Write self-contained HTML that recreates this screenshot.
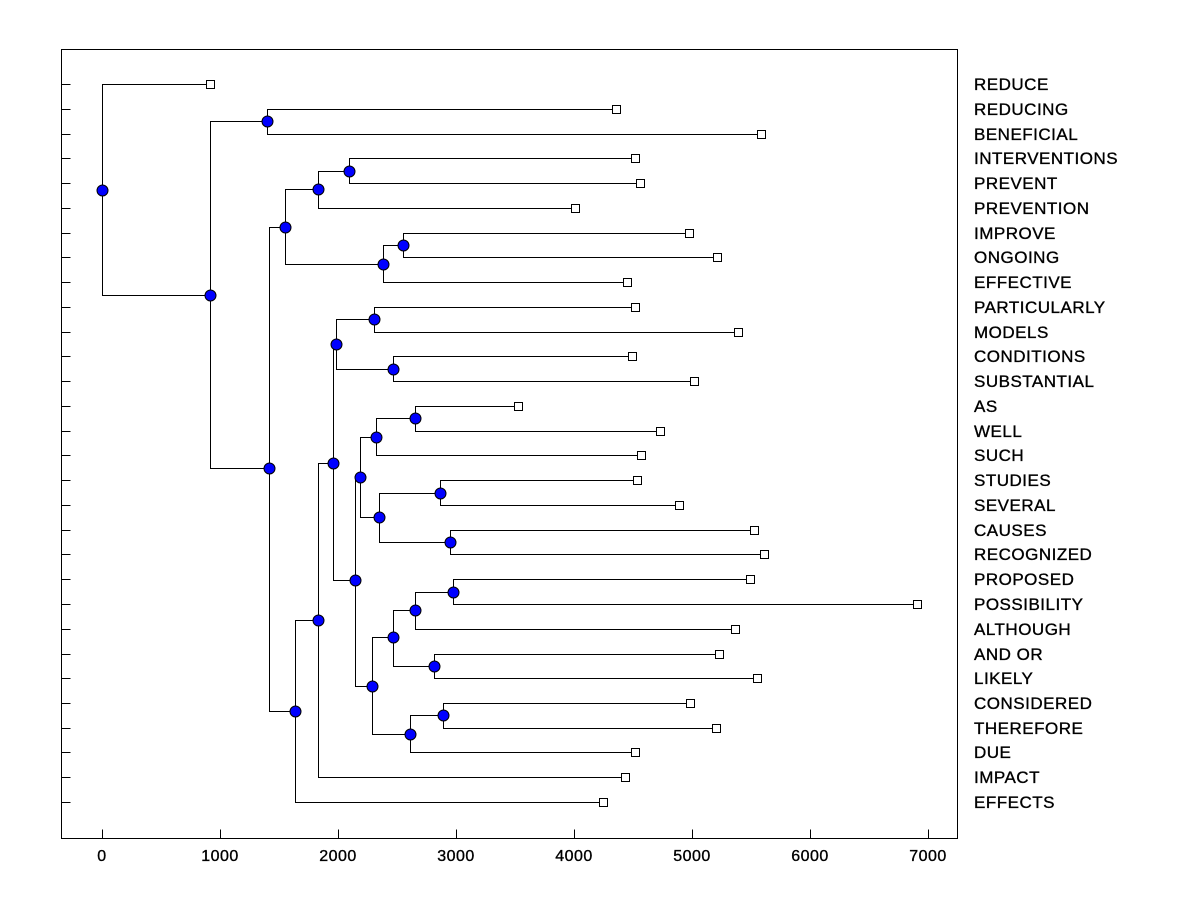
<!DOCTYPE html>
<html><head><meta charset="utf-8"><style>body{margin:0;background:#fff}</style></head><body>
<svg width="1200" height="900" xmlns="http://www.w3.org/2000/svg" font-family="Liberation Sans, Arial, sans-serif">
<rect width="1200" height="900" fill="#fff"/>
<rect x="61.5" y="49.5" width="896" height="789" fill="none" stroke="#000" shape-rendering="crispEdges"/>
<g stroke="#000" fill="none" stroke-width="1" shape-rendering="crispEdges" transform="translate(0.5,0.5)">
<path d="M61 84H70M61 109H70M61 134H70M61 158H70M61 183H70M61 208H70M61 233H70M61 257H70M61 282H70M61 307H70M61 332H70M61 356H70M61 381H70M61 406H70M61 431H70M61 455H70M61 480H70M61 505H70M61 530H70M61 554H70M61 579H70M61 604H70M61 629H70M61 654H70M61 678H70M61 703H70M61 728H70M61 752H70M61 777H70M61 802H70"/>
<path d="M102 838V829M220 838V829M338 838V829M456 838V829M574 838V829M692 838V829M810 838V829M928 838V829"/>
<path d="M210 84 H102 V295 H210"/>
<path d="M267 121 H210 V468 H269"/>
<path d="M616 109 H267 V134 H761"/>
<path d="M285 227 H269 V711 H295"/>
<path d="M318 189 H285 V264 H383"/>
<path d="M349 171 H318 V208 H575"/>
<path d="M635 158 H349 V183 H640"/>
<path d="M403 245 H383 V282 H627"/>
<path d="M689 233 H403 V257 H717"/>
<path d="M318 620 H295 V802 H603"/>
<path d="M333 463 H318 V777 H625"/>
<path d="M336 344 H333 V580 H355"/>
<path d="M374 319 H336 V369 H393"/>
<path d="M635 307 H374 V332 H738"/>
<path d="M632 356 H393 V381 H694"/>
<path d="M360 477 H355 V686 H372"/>
<path d="M376 437 H360 V517 H379"/>
<path d="M415 418 H376 V455 H641"/>
<path d="M518 406 H415 V431 H660"/>
<path d="M440 493 H379 V542 H450"/>
<path d="M637 480 H440 V505 H679"/>
<path d="M754 530 H450 V554 H764"/>
<path d="M393 637 H372 V734 H410"/>
<path d="M415 610 H393 V666 H434"/>
<path d="M453 592 H415 V629 H735"/>
<path d="M750 579 H453 V604 H917"/>
<path d="M719 654 H434 V678 H757"/>
<path d="M443 715 H410 V752 H635"/>
<path d="M690 703 H443 V728 H716"/>
</g>
<g fill="#fff" stroke="#000" shape-rendering="crispEdges" transform="translate(0.5,0.5)">
<rect x="206" y="80" width="8" height="8"/><rect x="612" y="105" width="8" height="8"/><rect x="757" y="130" width="8" height="8"/><rect x="631" y="154" width="8" height="8"/><rect x="636" y="179" width="8" height="8"/><rect x="571" y="204" width="8" height="8"/><rect x="685" y="229" width="8" height="8"/><rect x="713" y="253" width="8" height="8"/><rect x="623" y="278" width="8" height="8"/><rect x="631" y="303" width="8" height="8"/><rect x="734" y="328" width="8" height="8"/><rect x="628" y="352" width="8" height="8"/><rect x="690" y="377" width="8" height="8"/><rect x="514" y="402" width="8" height="8"/><rect x="656" y="427" width="8" height="8"/><rect x="637" y="451" width="8" height="8"/><rect x="633" y="476" width="8" height="8"/><rect x="675" y="501" width="8" height="8"/><rect x="750" y="526" width="8" height="8"/><rect x="760" y="550" width="8" height="8"/><rect x="746" y="575" width="8" height="8"/><rect x="913" y="600" width="8" height="8"/><rect x="731" y="625" width="8" height="8"/><rect x="715" y="650" width="8" height="8"/><rect x="753" y="674" width="8" height="8"/><rect x="686" y="699" width="8" height="8"/><rect x="712" y="724" width="8" height="8"/><rect x="631" y="748" width="8" height="8"/><rect x="621" y="773" width="8" height="8"/><rect x="599" y="798" width="8" height="8"/>
</g>
<g fill="#0000ff" stroke="#000" transform="translate(0.5,0.5)">
<circle cx="102" cy="190" r="5.5"/><circle cx="210" cy="295" r="5.5"/><circle cx="267" cy="121" r="5.5"/><circle cx="269" cy="468" r="5.5"/><circle cx="285" cy="227" r="5.5"/><circle cx="318" cy="189" r="5.5"/><circle cx="349" cy="171" r="5.5"/><circle cx="383" cy="264" r="5.5"/><circle cx="403" cy="245" r="5.5"/><circle cx="295" cy="711" r="5.5"/><circle cx="318" cy="620" r="5.5"/><circle cx="333" cy="463" r="5.5"/><circle cx="336" cy="344" r="5.5"/><circle cx="374" cy="319" r="5.5"/><circle cx="393" cy="369" r="5.5"/><circle cx="355" cy="580" r="5.5"/><circle cx="360" cy="477" r="5.5"/><circle cx="376" cy="437" r="5.5"/><circle cx="415" cy="418" r="5.5"/><circle cx="379" cy="517" r="5.5"/><circle cx="440" cy="493" r="5.5"/><circle cx="450" cy="542" r="5.5"/><circle cx="372" cy="686" r="5.5"/><circle cx="393" cy="637" r="5.5"/><circle cx="415" cy="610" r="5.5"/><circle cx="453" cy="592" r="5.5"/><circle cx="434" cy="666" r="5.5"/><circle cx="410" cy="734" r="5.5"/><circle cx="443" cy="715" r="5.5"/>
</g>
<g font-size="17" letter-spacing="0.5" fill="#000" stroke="#000" stroke-width="0.35">
<text x="974" y="90">REDUCE</text><text x="974" y="115">REDUCING</text><text x="974" y="140">BENEFICIAL</text><text x="974" y="164">INTERVENTIONS</text><text x="974" y="189">PREVENT</text><text x="974" y="214">PREVENTION</text><text x="974" y="239">IMPROVE</text><text x="974" y="263">ONGOING</text><text x="974" y="288">EFFECTIVE</text><text x="974" y="313">PARTICULARLY</text><text x="974" y="338">MODELS</text><text x="974" y="362">CONDITIONS</text><text x="974" y="387">SUBSTANTIAL</text><text x="974" y="412">AS</text><text x="974" y="437">WELL</text><text x="974" y="461">SUCH</text><text x="974" y="486">STUDIES</text><text x="974" y="511">SEVERAL</text><text x="974" y="536">CAUSES</text><text x="974" y="560">RECOGNIZED</text><text x="974" y="585">PROPOSED</text><text x="974" y="610">POSSIBILITY</text><text x="974" y="635">ALTHOUGH</text><text x="974" y="660">AND OR</text><text x="974" y="684">LIKELY</text><text x="974" y="709">CONSIDERED</text><text x="974" y="734">THEREFORE</text><text x="974" y="758">DUE</text><text x="974" y="783">IMPACT</text><text x="974" y="808">EFFECTS</text>
</g>
<g font-size="16" letter-spacing="0.5" text-anchor="middle" fill="#000" stroke="#000" stroke-width="0.35">
<text x="102" y="861">0</text><text x="220" y="861">1000</text><text x="338" y="861">2000</text><text x="456" y="861">3000</text><text x="574" y="861">4000</text><text x="692" y="861">5000</text><text x="810" y="861">6000</text><text x="928" y="861">7000</text>
</g>
</svg>
</body></html>
